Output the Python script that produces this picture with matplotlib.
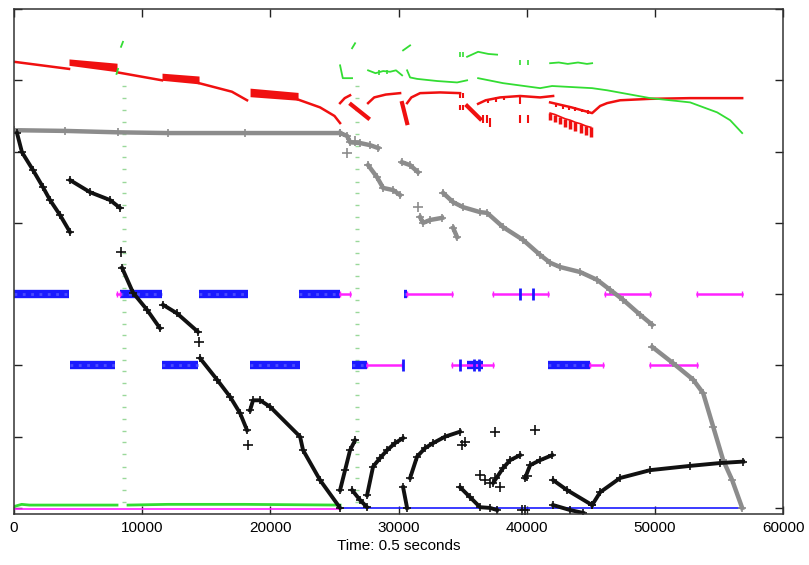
import matplotlib.pyplot as plt
import numpy as np

plt.rcParams['font.family'] = ['Liberation Sans', 'DejaVu Sans']

# ---- red trace (line pieces and thick bands) ----
red_lines = [
    ([0, 4292], [6.26, 6.16]),
    ([8115, 11548], [6.11, 6.00]),
    ([14436, 17000, 18181], [5.96, 5.84, 5.72]),
    ([22161, 23877, 25000, 25438], [5.73, 5.62, 5.50, 5.40]),
    ([25438, 25800, 26218], [5.68, 5.75, 5.79]),
    ([27623, 28100, 29000, 30120], [5.68, 5.76, 5.80, 5.82]),
    ([30666, 31000, 31680, 33240, 34801], [5.68, 5.76, 5.82, 5.83, 5.82]),
    ([36206, 36800, 37922, 39483, 41043, 42058], [5.67, 5.72, 5.76, 5.78, 5.76, 5.78]),
    ([41824, 43500, 45101, 45726, 46272, 47286, 49627, 52748, 56806],
     [5.69, 5.62, 5.54, 5.64, 5.68, 5.72, 5.74, 5.75, 5.75]),
]
red_bands_x = [[4292, 8037], [11548, 14436], [18415, 22161]]
red_bands_hi = [[6.30, 6.24], [6.10, 6.06], [5.89, 5.83]]
red_bands_lo = [[6.21, 6.12], [6.00, 5.95], [5.77, 5.72]]
# hatched band near the end of the run
red_hatch_x = [41824, 42200, 42600, 43000, 43400, 43800, 44200, 44600, 45000]
red_hatch_hi = [5.54, 5.52, 5.49, 5.46, 5.44, 5.41, 5.39, 5.36, 5.34]
red_hatch_lo = [5.44, 5.41, 5.38, 5.35, 5.32, 5.29, 5.26, 5.23, 5.20]
red_thick = [
    ([26300, 27623], [5.66, 5.47]),
    ([30276, 30666], [5.68, 5.40]),
    ([35348, 36362], [5.64, 5.46]),
]
red_tick_x = [34801, 35035, 34801, 35035, 36596, 36908, 37142, 39483, 39483, 40107,
              42300, 42800, 43300, 43800, 44300, 44800, 37000, 37600, 38200]
red_tick_lo = [5.75, 5.75, 5.58, 5.58, 5.40, 5.40, 5.34, 5.67, 5.40, 5.40,
               5.62, 5.60, 5.58, 5.57, 5.55, 5.53, 5.68, 5.70, 5.72]
red_tick_hi = [5.82, 5.82, 5.65, 5.65, 5.51, 5.51, 5.47, 5.76, 5.51, 5.51,
               5.68, 5.66, 5.64, 5.62, 5.60, 5.58, 5.74, 5.76, 5.77]

# ---- green trace ----
green_lines = [
    ([8000, 8115], [6.09, 6.16]),
    ([8350, 8500], [6.47, 6.54]),
    ([25438, 25650, 26374], [6.21, 6.03, 6.03]),
    ([26374, 26608], [6.45, 6.52]),
    ([27623, 28200, 28800, 29339, 29800, 30276], [6.14, 6.10, 6.13, 6.12, 6.14, 6.07]),
    ([30354, 30900], [6.42, 6.49]),
    ([30666, 30900, 31446, 33007, 34567, 35348], [6.14, 6.04, 6.02, 5.99, 5.97, 6.00]),
    ([36206, 38157, 41043, 41980, 45101, 46272, 49627, 52748, 54855, 55869, 56806],
     [6.03, 5.96, 5.89, 5.92, 5.89, 5.86, 5.75, 5.69, 5.55, 5.44, 5.26]),
    ([35348, 36206, 37000, 37688], [6.33, 6.40, 6.37, 6.36]),
    ([41824, 42500, 43200, 44000, 44700, 45101], [6.24, 6.25, 6.23, 6.25, 6.23, 6.24]),
]
green_tick_x = [34801, 35035, 39483, 40107, 28500, 29100]
green_tick_lo = [6.33, 6.33, 6.22, 6.22, 6.08, 6.09]
green_tick_hi = [6.40, 6.40, 6.28, 6.28, 6.14, 6.15]

# dotted vertical columns
dot_col_x = [8583, 26764]
dot_col_y = [0.08, 0.25, 0.42, 0.58, 0.75, 0.92, 1.08, 1.25, 1.42, 1.58, 1.75, 1.92,
             2.08, 2.25, 2.42, 2.58, 2.75, 2.92, 3.08, 3.25, 3.42, 3.58, 3.75, 3.92,
             4.08, 4.25, 4.42, 4.58, 4.75, 4.92, 5.08, 5.25, 5.42, 5.58, 5.75, 5.92]

# ---- gray '+' trace ----
gray_lines = [
    ([0, 4000, 8115, 12000, 18000, 25438], [5.30, 5.29, 5.27, 5.26, 5.26, 5.26]),
    ([25438, 25984, 26218, 27000, 27779, 28403], [5.26, 5.22, 5.13, 5.12, 5.09, 5.05]),
    ([27623, 28325, 28793, 29573, 30120], [4.81, 4.64, 4.49, 4.46, 4.39]),
    ([30276, 30900, 31524], [4.85, 4.81, 4.71]),
    ([31680, 31914, 32461, 33397], [4.08, 4.00, 4.04, 4.07]),
    ([33475, 34255, 35035, 36362, 36908, 38157, 39717, 41043, 41824, 42604, 44165,
      45491, 46506, 47520, 48847, 49783],
     [4.42, 4.29, 4.22, 4.15, 4.14, 3.94, 3.76, 3.55, 3.44, 3.38, 3.31, 3.20, 3.06,
      2.92, 2.71, 2.57]),
    ([34255, 34567], [3.93, 3.80]),
    ([49783, 51422, 52982, 53763, 54543, 55323, 56025, 56806],
     [2.26, 2.03, 1.80, 1.61, 1.14, 0.67, 0.39, 0.0]),
]
gray_pts_x = [25984, 31524, 26600]
gray_pts_y = [4.98, 4.22, 5.15]

# ---- black '+' trace ----
black_lines = [
    ([234, 624, 1483, 2263, 2809, 3589, 4370], [5.26, 4.99, 4.74, 4.50, 4.32, 4.11, 3.87]),
    ([4370, 5931, 7491, 8271], [4.60, 4.43, 4.32, 4.21]),
    ([8427, 9286, 10378, 11392], [3.37, 3.02, 2.78, 2.52]),
    ([11626, 12719, 14358], [2.85, 2.73, 2.47]),
    ([14514, 15840, 16854, 17635, 18181], [2.10, 1.80, 1.56, 1.33, 1.09]),
    ([18415, 18649, 19195, 19976, 22317, 22551, 23877, 25438],
     [1.37, 1.51, 1.51, 1.42, 1.00, 0.81, 0.39, 0.0]),
    ([25438, 25828, 26218, 26608], [0.25, 0.53, 0.81, 0.95]),
    ([26374, 26998, 27545], [0.25, 0.11, 0.01]),
    ([27545, 28013, 28559, 29105, 29730, 30354], [0.18, 0.58, 0.70, 0.81, 0.91, 0.98]),
    ([30354, 30666], [0.29, 0.0]),
    ([30900, 31446, 32071, 32695, 33632, 34801], [0.42, 0.72, 0.84, 0.91, 1.00, 1.07]),
    ([34801, 35582, 36362, 37142, 37688], [0.29, 0.15, 0.01, 0.0, -0.03]),
    ([37376, 38157, 38703, 39483], [0.35, 0.56, 0.67, 0.74]),
    ([39873, 40263, 41043, 41980], [0.42, 0.60, 0.67, 0.74]),
    ([42058, 43150, 45101], [0.39, 0.25, 0.04]),
    ([42058, 43385, 44399], [0.04, -0.03, -0.07]),
    ([45101, 45726, 47286, 49627, 52748, 55089, 56885], [0.04, 0.22, 0.42, 0.53, 0.59, 0.63, 0.65]),
]
black_pts_x = [8349, 14436, 18259, 34957, 35191, 36362, 36752, 37142, 37532, 37922,
               37532, 40653, 39639, 39873, 40000]
black_pts_y = [3.59, 2.33, 0.88, 0.88, 0.93, 0.46, 0.39, 0.35, 0.42, 0.29,
               1.07, 1.09, -0.03, -0.03, 0.45]

# ---- blue / magenta state bars at levels 3 and 2 ----
blue_bars = [
    (3, [(0, 4292), (8271, 11548), (14436, 18259), (22239, 25438), (30450, 30666)]),
    (2, [(4370, 7881), (11548, 14358), (18415, 22317), (26374, 27545), (35348, 36596),
         (41668, 44945)]),
]
magenta_bars = [
    (3, [(8037, 8271), (25438, 26218), (30666, 34177), (37376, 41668), (46116, 49627),
         (53294, 56806)]),
    (2, [(27545, 30276), (34177, 37376), (44945, 45960), (49627, 53294)]),
]
blue_marks = [(39483, 3), (40497, 3), (30354, 2), (34800, 2), (35900, 2), (36300, 2)]

# ---- flat traces along the bottom ----
bottom_green = [([0, 600, 1200, 8037], [0.02, 0.05, 0.04, 0.04]),
                ([8895, 12000, 18000, 25438], [0.04, 0.05, 0.05, 0.04])]
bottom_magenta = ([0, 25438], [-0.015, -0.015])
bottom_blue = ([25438, 56806], [0.0, 0.0])

RED = '#f01010'
GREEN = '#33dd33'
BLUE = '#1a1aff'
MAGENTA = '#ff22ff'
GRAY = '#8c8c8c'

fig = plt.figure(figsize=(8.09, 5.65), dpi=100)
ax = fig.add_axes([0.0173, 0.0903, 0.9507, 0.8937])

# bottom traces
for xs, ys in bottom_green:
    ax.plot(xs, ys, color=GREEN, lw=2.0)
ax.plot(*bottom_magenta, color=MAGENTA, lw=1.2)
ax.plot(*bottom_blue, color=BLUE, lw=1.2)

# dotted columns
for cx in dot_col_x:
    ax.plot([cx] * len(dot_col_y), dot_col_y, ls='none', marker='_', ms=3,
            color='#9ad89a', mew=1)

# state bars
for level, spans in blue_bars:
    for a, b in spans:
        ax.plot([a, b], [level, level], color=BLUE, lw=6, solid_capstyle='butt')
        ax.plot([a, b], [level, level], color='#4a4aff', lw=2, ls=(0, (1, 2)))
for level, spans in magenta_bars:
    for a, b in spans:
        ax.plot([a, b], [level, level], color=MAGENTA, lw=1.8)
        ax.plot([a, b], [level, level], ls='none', marker='|', ms=4, color=MAGENTA)
for mx, lv in blue_marks:
    ax.plot([mx], [lv], marker='|', ms=9, mew=2, color=BLUE)

# gray trace
for xs, ys in gray_lines:
    ax.plot(xs, ys, color=GRAY, lw=3.2, marker='+', ms=6, mew=1.2)
ax.plot(gray_pts_x, gray_pts_y, ls='none', marker='+', ms=7, mew=1.2, color=GRAY)

# black trace
for xs, ys in black_lines:
    ax.plot(xs, ys, color='#111111', lw=2.8, marker='+', ms=6, mew=1.2)
ax.plot(black_pts_x, black_pts_y, ls='none', marker='+', ms=7, mew=1.2, color='#111111')

# red trace
for xs, ys in red_lines:
    ax.plot(xs, ys, color=RED, lw=1.8)
for xs, hi, lo in zip(red_bands_x, red_bands_hi, red_bands_lo):
    ax.fill_between(xs, lo, hi, color=RED, lw=0)
ax.vlines(red_hatch_x, red_hatch_lo, red_hatch_hi, color=RED, lw=2.5)
ax.plot(red_hatch_x, red_hatch_hi, color=RED, lw=1.2)
for xs, ys in red_thick:
    ax.plot(xs, ys, color=RED, lw=3)
ax.vlines(red_tick_x, red_tick_lo, red_tick_hi, color=RED, lw=1.5)

# green trace
for xs, ys in green_lines:
    ax.plot(xs, ys, color=GREEN, lw=1.3)
ax.vlines(green_tick_x, green_tick_lo, green_tick_hi, color=GREEN, lw=1.2)

ax.set_xlim(0, 60000)
ax.set_ylim(-0.085, 7.0)
ax.set_xticks(np.arange(0, 60001, 10000))
ax.set_yticks(np.arange(0, 8, 1))
ax.set_yticklabels([])
ax.tick_params(direction='in', length=6, width=1, top=True, right=True,
               labelsize=11, pad=5, color='#222222')
for s in ax.spines.values():
    s.set_linewidth(1.1)
    s.set_color('#333333')
ax.set_xlabel('Time: 0.5 seconds', fontsize=11, labelpad=3)

fig.savefig('out.png', dpi=100)
